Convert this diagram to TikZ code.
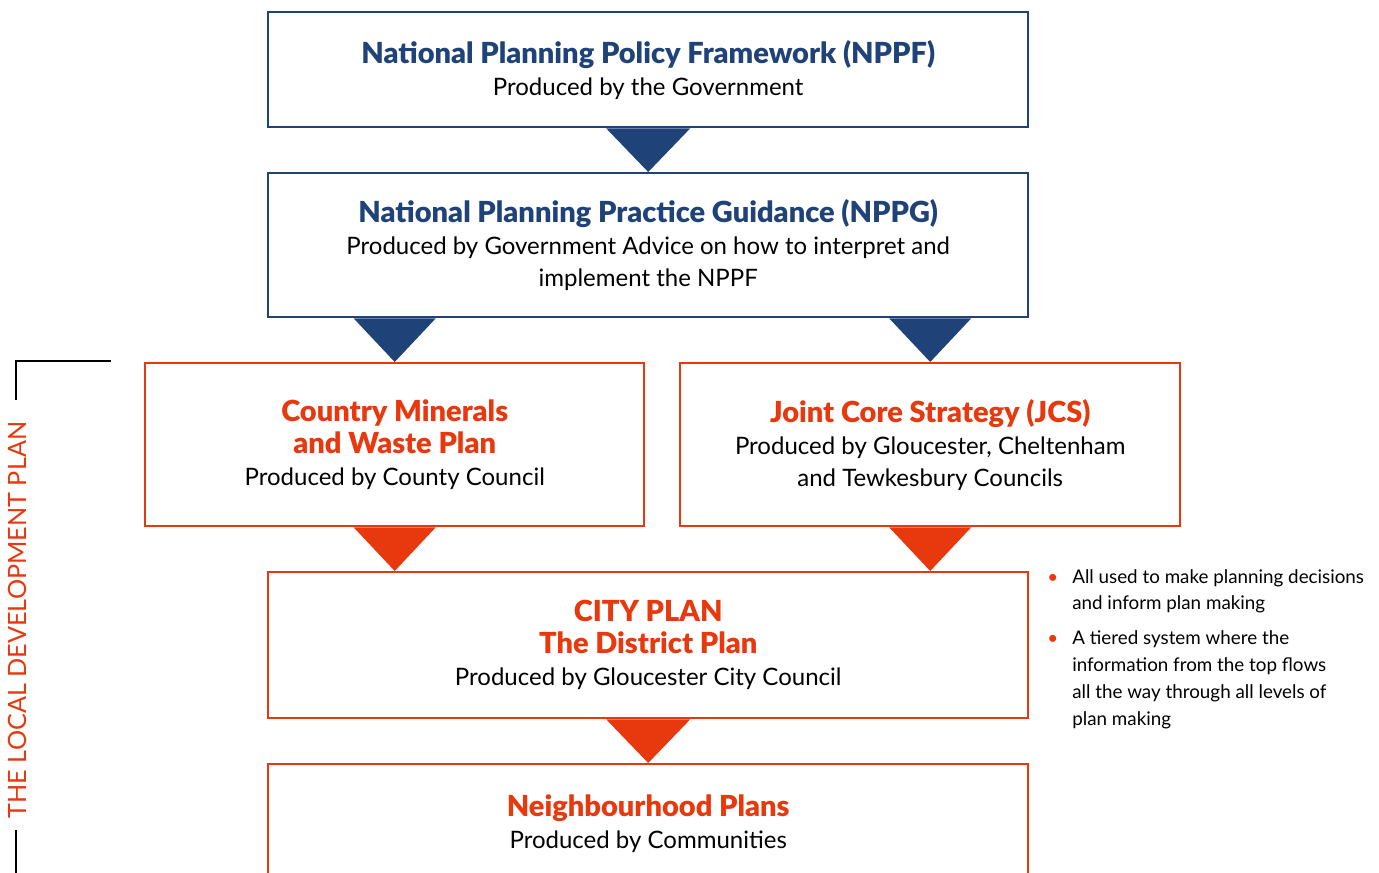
\documentclass[tikz,border=0pt]{standalone}
\usepackage{fontspec}
\setmainfont{Lato}
\newfontfamily\heavy{Lato Black}
\usetikzlibrary{calc}
\definecolor{nblue}{HTML}{1F4279}
\definecolor{norange}{HTML}{E8380D}
\newcommand\bt[1]{{\heavy\fontsize{14.5}{16}\selectfont\color{nblue}#1}}
\newcommand\ot[1]{{\heavy\fontsize{14.5}{16}\selectfont\color{norange}#1}}
\begin{document}
\begin{tikzpicture}[x=0.5pt,y=-0.5pt,
  box/.style={draw, line width=1.2pt, fill=white, inner sep=0pt, anchor=north west,
    align=center, font=\fontsize{12}{16}\selectfont},
  bluebox/.style={box, draw=nblue},
  orangebox/.style={box, draw=norange},
  bluetri/.style={fill=nblue},
  orangetri/.style={fill=norange},
  bracket/.style={draw=black, line width=1.4pt}]
\useasboundingbox (0,0) rectangle (1379,872);
\clip (0,0) rectangle (1379,872);

\node[bluebox, minimum width=380pt, minimum height=57.5pt] (nppf) at (267,11)
  {\bt{National Planning Policy Framework (NPPF)}\\Produced by the Government};
\node[bluebox, minimum width=380pt, minimum height=72pt] (nppg) at (267,172)
  {\bt{National Planning Practice Guidance (NPPG)}\\Produced by Government Advice on how to interpret and\\implement the NPPF};
\node[orangebox, minimum width=249.5pt, minimum height=81.5pt] (cmw) at (144,362)
  {\ot{Country Minerals}\\\ot{and Waste Plan}\\Produced by County Council};
\node[orangebox, minimum width=250pt, minimum height=81.5pt] (jcs) at (679,362)
  {\ot{Joint Core Strategy (JCS)}\\Produced by Gloucester, Cheltenham\\and Tewkesbury Councils};
\node[orangebox, minimum width=380pt, minimum height=73pt] (city) at (267,571)
  {\ot{CITY PLAN}\\\ot{The District Plan}\\Produced by Gloucester City Council};
\node[orangebox, minimum width=380pt, minimum height=59pt] (neigh) at (267,763)
  {\ot{Neighbourhood Plans}\\Produced by Communities};

\fill[bluetri] ($(nppf.south)+(-42,0)$) -- ($(nppf.south)+(42,0)$) -- (nppg.north) -- cycle;
\fill[bluetri] ($(nppg.south -| cmw.north)+(-41,0)$) -- ($(nppg.south -| cmw.north)+(41,0)$) -- (cmw.north) -- cycle;
\fill[bluetri] ($(nppg.south -| jcs.north)+(-41,0)$) -- ($(nppg.south -| jcs.north)+(41,0)$) -- (jcs.north) -- cycle;
\fill[orangetri] ($(cmw.south)+(-41,0)$) -- ($(cmw.south)+(41,0)$) -- (city.north -| cmw.south) -- cycle;
\fill[orangetri] ($(jcs.south)+(-41,0)$) -- ($(jcs.south)+(41,0)$) -- (city.north -| jcs.south) -- cycle;
\fill[orangetri] ($(city.south)+(-42,0)$) -- ($(city.south)+(42,0)$) -- (neigh.north) -- cycle;

\coordinate (brA) at (111,361);
\coordinate (brB) at (16,361);
\coordinate (brC) at (16,400);
\coordinate (brD) at (16,830);
\coordinate (brE) at (16,880);
\draw[bracket] (brA) -- (brB) -- (brC);
\draw[bracket] (brD) -- (brE);
\node[rotate=90, text=norange, font=\fontsize{12.6}{15}\selectfont] (ldp) at (17,620) {THE LOCAL DEVELOPMENT PLAN};

\node[anchor=base west, inner sep=0pt, font=\fontsize{9.4}{13.4}\selectfont] (notes) at (1047,583)
 {\begin{tabular}[t]{@{}l@{\hspace{7pt}}l@{}}
  \textcolor{norange}{•} & All used to make planning decisions\\
   & and inform plan making\\[4pt]
  \textcolor{norange}{•} & A tiered system where the\\
   & information from the top flows\\
   & all the way through all levels of\\
   & plan making
 \end{tabular}};
\end{tikzpicture}
\end{document}
